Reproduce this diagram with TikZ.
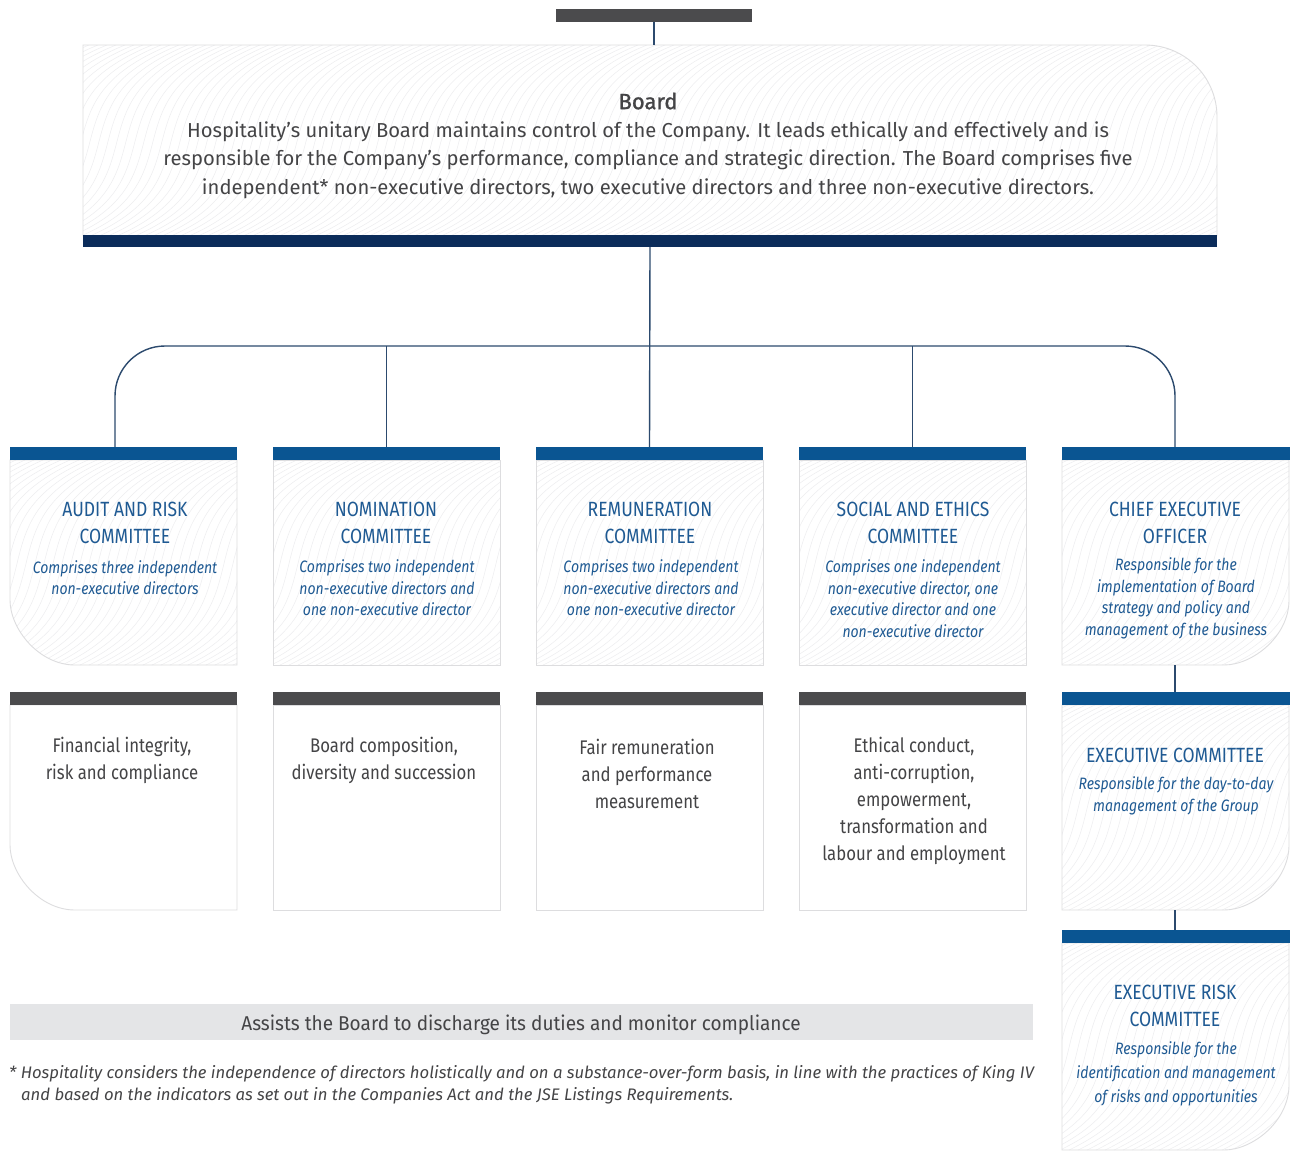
\documentclass[tikz,border=0pt]{standalone}
\usepackage{fontspec}
\setmainfont{Fira Sans}
\newfontfamily\cond[FakeStretch=0.85]{Fira Sans}
\newfontfamily\semi[FakeStretch=0.95]{Fira Sans}
\newfontfamily\medi[FakeBold=1.2]{Fira Sans}
\definecolor{bardark}{HTML}{4B4B4D}
\definecolor{navy}{HTML}{0B2C5A}
\definecolor{barblue}{HTML}{0A5592}
\definecolor{linec}{HTML}{2C4A6E}
\definecolor{ttlblue}{HTML}{1F5A93}
\definecolor{bodyc}{HTML}{444446}
\definecolor{bordc}{HTML}{DDDDDF}
\definecolor{wavec}{HTML}{EDEDEF}
\definecolor{bandc}{HTML}{E4E5E7}
\tikzset{
  conn/.style={draw=linec, line width=1.4pt},
  barnode/.style={inner sep=0pt, outer sep=0pt, minimum height=13pt, anchor=north west},
  boxborder/.style={draw=bordc, line width=0.9pt},
  wave/.style={draw=wavec, line width=0.5pt},
  ttl/.style={inner sep=0pt, font=\cond\fontsize{20.6}{27}\selectfont, text=ttlblue, align=center},
  dsc/.style={inner sep=0pt, font=\cond\itshape\fontsize{16.5}{21.5}\selectfont, text=ttlblue, align=center},
  body/.style={inner sep=0pt, font=\cond\fontsize{19.7}{27}\selectfont, text=bodyc, align=center},
  rplain/.style n args={4}{insert path={(#1,#2) rectangle (#3,#4)}},
  rbl/.style n args={4}{insert path={(#1,#2) -- (#3,#2) -- (#3,#4) -- ({#1+65},#4) .. controls ({#1+29},#4) and (#1,{#4-36}) .. (#1,{#4-65}) -- cycle}},
  rbr/.style n args={4}{insert path={(#1,#2) -- (#3,#2) -- (#3,{#4-65}) .. controls (#3,{#4-29}) and ({#3-36},#4) .. ({#3-65},#4) -- (#1,#4) -- cycle}},
  rtr/.style n args={4}{insert path={(#1,#2) -- ({#3-72},#2) .. controls ({#3-32},#2) and (#3,{#2+32}) .. (#3,{#2+72}) -- (#3,#4) -- (#1,#4) -- cycle}},
}
\newcommand\wavefill[4]{%
  \pgfmathsetmacro\hh{#4-#2}%
  \pgfmathtruncatemacro\nn{(#3-#1+230)/9}%
  \foreach \i in {0,...,\nn}{%
    \pgfmathsetmacro\a{#1-200+9*\i}%
    \draw[wave] (\a,#4) .. controls (\a+130,{#4-0.3*\hh}) and (\a+30,{#2+0.3*\hh}) .. (\a+170,#2);
  }%
}
\newcommand\panel[6]{%
  \ifnum#6=1
    \begin{scope}
      \path[#1={#2}{#3}{#4}{#5}, clip];
      \wavefill{#2}{#3}{#4}{#5}
    \end{scope}
  \fi
  \path[#1={#2}{#3}{#4}{#5}, boxborder];
}
\begin{document}
\begin{tikzpicture}[x=1pt,y=-1pt]
\useasboundingbox (0,0) rectangle (1290,1151);
\fill[white] (0,0) rectangle (1290,1151);

% ---- Board
\panel{rtr}{83}{45}{1217}{236}{1}
\node[barnode, fill=bardark, minimum width=196pt] (topbar) at (556,9) {};
\node[barnode, fill=navy, minimum width=1134pt, minimum height=12pt] (navybar) at (83,235) {};
\coordinate (boardtop) at (655,45);
\draw[conn] (topbar.south) -- (topbar.south |- boardtop);
\node[inner sep=0pt, font=\fontsize{20.2}{28.3}\selectfont, text=bodyc, align=center] (boardtext) at (648,145.5)
  {{\medi\fontsize{22}{28.3}\selectfont Board}\\Hospitality’s unitary Board maintains control of the Company. It leads ethically and effectively and is\\responsible for the Company’s performance, compliance and strategic direction. The Board comprises five\\independent* non-executive directors, two executive directors and three non-executive directors.};

% ---- committee row
\panel{rbl}{10}{460}{237}{665}{1}
\panel{rplain}{273}{460}{500}{665}{1}
\panel{rplain}{536}{460}{763}{665}{1}
\panel{rplain}{799}{460}{1026}{665}{1}
\panel{rbr}{1062}{460}{1289}{665}{1}
\node[barnode, fill=barblue, minimum width=227pt] (c1bar) at (10,447) {};
\node[barnode, fill=barblue, minimum width=227pt] (c2bar) at (273,447) {};
\node[barnode, fill=barblue, minimum width=227pt] (c3bar) at (536,447) {};
\node[barnode, fill=barblue, minimum width=227pt] (c4bar) at (799,447) {};
\node[barnode, fill=barblue, minimum width=228pt] (c5bar) at (1062,447) {};

\node[ttl] (c1t) at (125,523) {AUDIT AND RISK\\COMMITTEE};
\node[dsc] (c1d) at (125,577.5) {Comprises three independent\\non-executive directors};
\node[ttl] (c2t) at (386,523) {NOMINATION\\COMMITTEE};
\node[dsc] (c2d) at (387,588) {Comprises two independent\\non-executive directors and\\one non-executive director};
\node[ttl] (c3t) at (650,523) {REMUNERATION\\COMMITTEE};
\node[dsc] (c3d) at (651,588) {Comprises two independent\\non-executive directors and\\one non-executive director};
\node[ttl] (c4t) at (913,523) {SOCIAL AND ETHICS\\COMMITTEE};
\node[dsc] (c4d) at (913,598.5) {Comprises one independent\\non-executive director, one\\executive director and one\\non-executive director};
\node[ttl] (c5t) at (1175,523) {CHIEF EXECUTIVE\\OFFICER};
\node[dsc] (c5d) at (1176,598.5) {Responsible for the\\implementation of Board\\strategy and policy and\\management of the business};

% ---- connectors
\coordinate (busy) at (650,346);
\coordinate (j1) at (115,447);
\coordinate (j5) at (1175,447);
\draw[conn] (navybar.south) -- (c3bar.north);
\draw[conn, rounded corners=50pt] (j1) -- (j1 |- busy) -- (j5 |- busy) -- (j5);
\draw[conn] (c2bar.north |- busy) -- (c2bar.north);
\draw[conn] (c4bar.north |- busy) -- (c4bar.north);

% ---- remit row
\panel{rbl}{10}{705}{237}{910}{0}
\panel{rplain}{273}{705}{500}{910}{0}
\panel{rplain}{536}{705}{763}{910}{0}
\panel{rplain}{799}{705}{1026}{910}{0}
\node[barnode, fill=bardark, minimum width=227pt] (d1bar) at (10,692) {};
\node[barnode, fill=bardark, minimum width=227pt] (d2bar) at (273,692) {};
\node[barnode, fill=bardark, minimum width=227pt] (d3bar) at (536,692) {};
\node[barnode, fill=bardark, minimum width=227pt] (d4bar) at (799,692) {};
\node[body] (d1) at (122,760.5) {Financial integrity,\\risk and compliance};
\node[body] (d2) at (384,760.5) {Board composition,\\diversity and succession};
\node[body] (d3) at (647,774) {Fair remuneration\\and performance\\measurement};
\node[body] (d4) at (914,800.5) {Ethical conduct,\\anti-corruption,\\empowerment,\\transformation and\\labour and employment};

% ---- executive column
\panel{rbr}{1062}{705}{1289}{910}{1}
\node[barnode, fill=barblue, minimum width=228pt] (exbar) at (1062,692) {};
\coordinate (ceobot) at (1175,665);
\draw[conn] (ceobot) -- (ceobot |- exbar.north);
\node[ttl] (ext) at (1175,755) {EXECUTIVE COMMITTEE};
\node[dsc] (exd) at (1176,796) {Responsible for the day-to-day\\management of the Group};

\panel{rbr}{1062}{943}{1289}{1150}{1}
\node[barnode, fill=barblue, minimum width=228pt] (erbar) at (1062,930) {};
\coordinate (exbot) at (1175,910);
\draw[conn] (exbot) -- (exbot |- erbar.north);
\node[ttl] (ert) at (1175,1006) {EXECUTIVE RISK\\COMMITTEE};
\node[dsc, font=\cond\itshape\fontsize{16.5}{24}\selectfont] (erd) at (1176,1074) {Responsible for the\\identification and management\\of risks and opportunities};

% ---- band and footnote
\node[fill=bandc, inner sep=0pt, minimum width=1023pt, minimum height=36pt, text=bodyc] (assist) at (521.5,1022) {};
\node[inner sep=0pt, font=\semi\fontsize{20}{24}\selectfont, text=bodyc] (assisttext) at (521,1024.5) {Assists the Board to discharge its duties and monitor compliance};
\node[anchor=west, inner sep=0pt, align=left, font=\itshape\fontsize{16.7}{22}\selectfont, text=bodyc] (foot) at (9,1085)
  {* Hospitality considers the independence of directors holistically and on a substance-over-form basis, in line with the practices of King IV\\\hspace*{12pt}and based on the indicators as set out in the Companies Act and the JSE Listings Requirements.};
\end{tikzpicture}
\end{document}
